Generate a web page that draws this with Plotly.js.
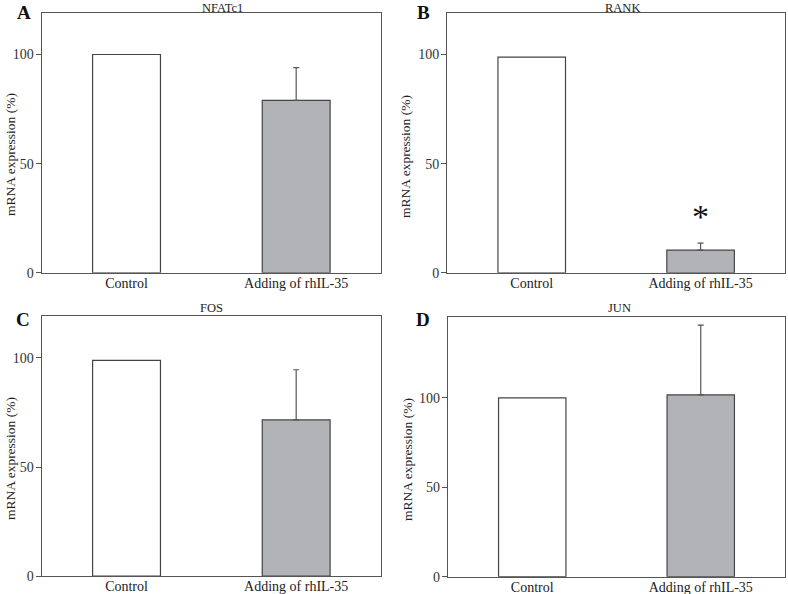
<!DOCTYPE html>
<html>
<head>
<meta charset="utf-8">
<script src="https://cdn.plot.ly/plotly-3.0.1.min.js"></script>
<style>html,body{margin:0;padding:0;background:#fff;}#chart{width:788px;height:594px;}</style>
</head>
<body>
<div id="chart"></div>
<script>
// ---- data ----
const categories = ['Control', 'Adding of rhIL-35'];
const panelTitles = ['NFATc1', 'RANK', 'FOS', 'JUN'];
const panelLetters = ['A', 'B', 'C', 'D'];
const nfatc1 = [100, 79];
const nfatc1Err = [0, 15];
const rank = [98.8, 10.4];
const rankErr = [0, 3.2];
const fos = [98.9, 71.6];
const fosErr = [0, 23];
const jun = [99.8, 101.5];
const junErr = [0, 39];
const yTitle = 'mRNA expression (%)';
const yTicks = [0, 50, 100];

const W = 788, H = 594;
const FONT = 'Liberation Serif, Times New Roman, serif';
const values = [nfatc1, rank, fos, jun];
const errors = [nfatc1Err, rankErr, fosErr, junErr];
const yMax = [119, 119, 119.4, 145];

// panel pixel boxes [left, right, top, bottom]
const boxes = [
  [41.7, 381, 13, 272.8],
  [447.3, 785, 13, 272.8],
  [41.7, 381, 315.7, 576],
  [448, 785, 317, 576.7]
];
const px = x => x / W;
const py = y => 1 - y / H;

const traces = [];
const layout = {
  width: W, height: H, autosize: false,
  margin: {l: 0, r: 0, t: 0, b: 0},
  paper_bgcolor: '#fff', plot_bgcolor: '#fff',
  showlegend: false, barmode: 'overlay',
  font: {family: FONT, size: 14, color: '#222'},
  annotations: []
};

const fills = ['#ffffff', '#b2b3b6'];
for (let p = 0; p < 4; p++) {
  const sfx = p === 0 ? '' : String(p + 1);
  const xa = 'x' + sfx, ya = 'y' + sfx;
  for (let i = 0; i < categories.length; i++) {
    const t = {
      type: 'bar', x: [categories[i]], y: [values[p][i]],
      xaxis: xa, yaxis: ya, width: 0.4,
      marker: {color: fills[i], line: {color: '#444', width: 1.2}},
      hoverinfo: 'skip'
    };
    if (errors[p][i] > 0) {
      t.error_y = {type: 'data', symmetric: false, array: [errors[p][i]], arrayminus: [0],
                   color: '#555', thickness: 1.2, width: 3};
    }
    traces.push(t);
  }
  const b = boxes[p];
  layout['xaxis' + sfx] = {
    domain: [px(b[0]), px(b[1])], anchor: ya,
    range: [-0.5, 1.5], type: 'category', categoryorder: 'array', categoryarray: categories,
    showline: true, mirror: true, linecolor: '#555', linewidth: 1.2,
    ticks: '', showgrid: false, zeroline: false, fixedrange: true,
    ticklabelstandoff: -3,
    tickfont: {family: FONT, size: 14, color: '#222'}
  };
  layout['yaxis' + sfx] = {
    domain: [py(b[3]), py(b[2])], anchor: xa,
    range: [0, yMax[p]], tickvals: yTicks, ticktext: yTicks.map(String),
    showline: true, mirror: true, linecolor: '#555', linewidth: 1.2,
    ticks: 'outside', ticklen: 5, tickcolor: '#555', tickwidth: 1,
    showgrid: false, zeroline: false, fixedrange: true,
    ticklabelstandoff: -1,
    tickfont: {family: FONT, size: 14, color: '#333'}
  };
}

// titles, letters, y-titles
const titlePos = [[222, 8.5], [622, 8.5], [212, 308], [619, 308]];
const letterPos = [[24, 13], [423, 12], [23, 319], [423, 319]];
const yTitlePos = [[10, 155], [406, 157], [10, 459], [407, 460]];
for (let p = 0; p < 4; p++) {
  layout.annotations.push({
    xref: 'paper', yref: 'paper', x: px(titlePos[p][0]), y: py(titlePos[p][1]),
    text: panelTitles[p], showarrow: false, xanchor: 'center', yanchor: 'middle',
    borderpad: 0, font: {family: FONT, size: 12.5, color: '#222'}
  });
  layout.annotations.push({
    xref: 'paper', yref: 'paper', x: px(letterPos[p][0]), y: py(letterPos[p][1]),
    text: '<b>' + panelLetters[p] + '</b>', showarrow: false, xanchor: 'center', yanchor: 'middle',
    font: {family: FONT, size: 19, color: '#111'}
  });
  layout.annotations.push({
    xref: 'paper', yref: 'paper', x: px(yTitlePos[p][0]), y: py(yTitlePos[p][1]),
    text: yTitle, textangle: -90, showarrow: false, xanchor: 'center', yanchor: 'middle',
    font: {family: FONT, size: 13.5, color: '#222'}
  });
}
// significance asterisk on RANK
layout.annotations.push({
  xref: 'x2', yref: 'y2', x: categories[1], y: rank[1] + rankErr[1] + 3,
  text: '*', showarrow: false, xanchor: 'center', yanchor: 'bottom',
  font: {family: FONT, size: 34, color: '#111'}
});

Plotly.newPlot('chart', traces, layout, {staticPlot: true, displayModeBar: false});
</script>
</body>
</html>
